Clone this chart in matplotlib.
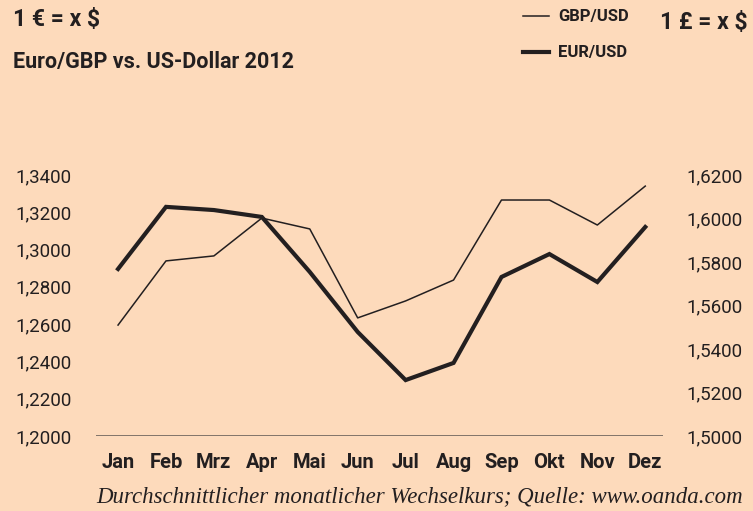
import numpy as np
import matplotlib.pyplot as plt

# Daten (Monatsdurchschnitt 2012)
monate = ["Jan", "Feb", "Mrz", "Apr", "Mai", "Jun", "Jul", "Aug", "Sep", "Okt", "Nov", "Dez"]
eur_usd = [1.2896, 1.3229, 1.3212, 1.3175, 1.2880, 1.2558, 1.2300, 1.2392, 1.2853, 1.2976, 1.2826, 1.3121]
gbp_usd = [1.5510, 1.5805, 1.5828, 1.6002, 1.5952, 1.5543, 1.5621, 1.5717, 1.6085, 1.6085, 1.5970, 1.6149]

links_ticks = [1.20, 1.22, 1.24, 1.26, 1.28, 1.30, 1.32, 1.34]
rechts_ticks = [1.50, 1.52, 1.54, 1.56, 1.58, 1.60, 1.62]

bg = "#fddabb"
ink = "#231f20"
schrift = ["Roboto", "DejaVu Sans"]

fig = plt.figure(figsize=(7.53, 5.11), dpi=100, facecolor=bg)
ax = fig.add_axes([96/753, 1 - 436/511, 567/753, 261/511])
ax.set_facecolor(bg)
ax2 = ax.twinx()

x = np.arange(len(monate))
ax.plot(x, eur_usd, color=ink, lw=3.0, solid_joinstyle="miter", clip_on=False, zorder=3)
ax2.plot(x, gbp_usd, color=ink, lw=1.1, clip_on=False, zorder=3)

ax.set_xlim(-0.46, 11.37)
ax.set_ylim(1.20, 1.34)
ax2.set_ylim(1.50, 1.62)

for a in (ax, ax2):
    for s in a.spines.values():
        s.set_visible(False)
ax.axhline(1.20, color="#766a62", lw=2.0, zorder=2)

ax.set_yticks(links_ticks)
ax.set_yticklabels([f"{v:.4f}".replace(".", ",") for v in links_ticks],
                   family=schrift, fontsize=13.5, color=ink)
ax2.set_yticks(rechts_ticks)
ax2.set_yticklabels([f"{v:.4f}".replace(".", ",") for v in rechts_ticks],
                    family=schrift, fontsize=13.5, color=ink)
ax.tick_params(axis="y", length=0, pad=17.5)
ax2.tick_params(axis="y", length=0, pad=17)

ax.set_xticks(x)
ax.set_xticklabels(monate, family=schrift, fontsize=14.5, fontweight="bold", color=ink)
ax.tick_params(axis="x", length=0, pad=12)

# Kopfzeile
fig.text(13/753, 1 - 19/511, "1 € = x $", family=schrift, fontsize=16.5, fontweight="bold",
         color=ink, va="center", ha="left")
fig.text(13/753, 1 - 62/511, "Euro/GBP vs. US-Dollar 2012", family=schrift, fontsize=15.5,
         fontweight="bold", color=ink, va="center", ha="left")
fig.text(748/753, 1 - 22/511, "1 £ = x $", family=schrift, fontsize=16.5, fontweight="bold",
         color=ink, va="center", ha="right")

# Legende
fig.add_artist(plt.Line2D([523/753, 549/753], [1 - 16/511, 1 - 16/511], color=ink, lw=1.1))
fig.add_artist(plt.Line2D([523/753, 549/753], [1 - 52/511, 1 - 52/511], color=ink, lw=3.0))
fig.text(558/753, 1 - 16/511, "GBP/USD", family=schrift, fontsize=12, fontweight="bold",
         color=ink, va="center", ha="left")
fig.text(558/753, 1 - 52/511, "EUR/USD", family=schrift, fontsize=12, fontweight="bold",
         color=ink, va="center", ha="left")

fig.text(420/753, 1 - 497/511, "Durchschnittlicher monatlicher Wechselkurs; Quelle: www.oanda.com",
         family=["Liberation Serif", "DejaVu Serif"], style="italic", fontsize=16.5,
         color=ink, va="center", ha="center")

fig.savefig("out.png", dpi=100, facecolor=bg)
